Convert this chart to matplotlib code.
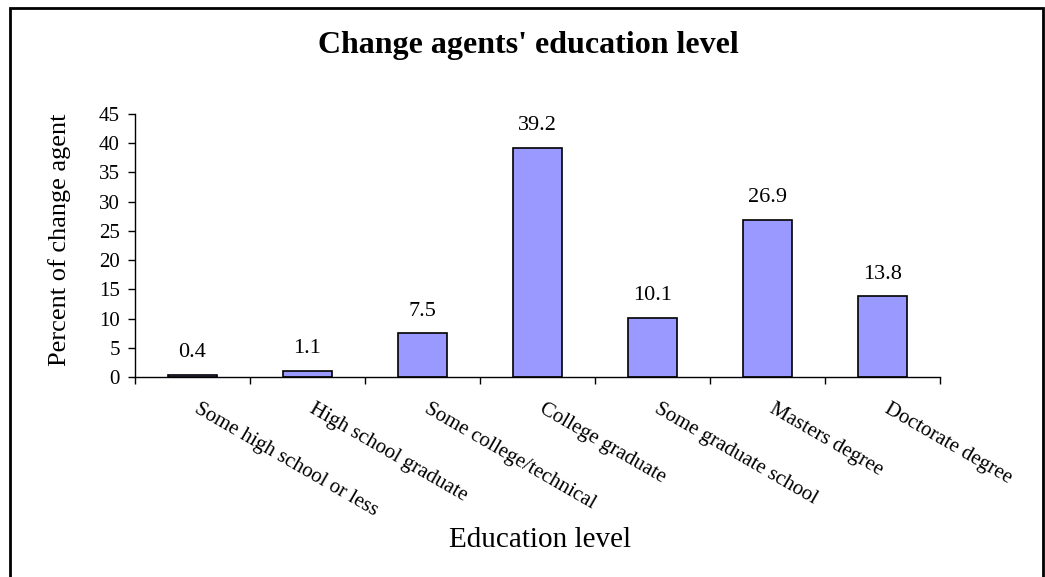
import matplotlib
matplotlib.use('Agg')
import matplotlib.pyplot as plt
import matplotlib.patches as mpatches
import numpy as np

# education categories and share of change agents (%)
categories = ['Some high school or less', 'High school graduate', 'Some college/technical',
              'College graduate', 'Some graduate school', 'Masters degree', 'Doctorate degree']
values = [0.4, 1.1, 7.5, 39.2, 10.1, 26.9, 13.8]
yticks = [0, 5, 10, 15, 20, 25, 30, 35, 40, 45]

plt.rcParams['font.family'] = ['Liberation Serif', 'DejaVu Serif']

W, H = 1045, 577
fig = plt.figure(figsize=(W / 100, H / 100), dpi=100)
ax = fig.add_axes([135 / W, 1 - 377 / H, (940 - 135) / W, (377 - 114) / H])

x = np.arange(len(categories))
bars = ax.bar(x, values, width=0.42, color='#9999FF', edgecolor='black', linewidth=1.2)
for b, v in zip(bars, values):
    ax.annotate(f'{v:.1f}', (b.get_x() + b.get_width() / 2, v), xytext=(0, 9),
                textcoords='offset points', ha='center', va='bottom', fontsize=16)

ax.set_xlim(-0.5, len(categories) - 0.5)
ax.set_ylim(0, 45)
ax.set_yticks(yticks)
ax.tick_params(axis='y', labelsize=15, direction='out', length=5, width=1, pad=6)

# category boundaries get the tick marks, names are written at the centres
ax.set_xticks([])
ax.set_xticks(np.arange(-0.5, len(categories)), minor=True)
ax.tick_params(axis='x', which='minor', direction='out', length=5, width=1, labelbottom=False)
for xi, name in zip(x, categories):
    ax.annotate(name, (xi, 0), xycoords=('data', 'axes fraction'), xytext=(6, -16),
                textcoords='offset points', rotation=-30, ha='left', va='top',
                rotation_mode='anchor', fontsize=15)

for s in ['top', 'right']:
    ax.spines[s].set_visible(False)
for s in ['left', 'bottom']:
    ax.spines[s].set_linewidth(1)

fig.text(528 / W, 1 - 53 / H, "Change agents' education level", ha='center', va='baseline',
         fontsize=23, fontweight='bold')
fig.text(540 / W, 1 - 547 / H, 'Education level', ha='center', va='baseline', fontsize=21)
fig.text(60 / W, 1 - 240 / H, 'Percent of change agent', ha='center', va='center',
         rotation=90, fontsize=19)

# outer frame (bottom edge falls outside the picture)
fig.patches.append(mpatches.Rectangle((10 / W, -0.05), (1043 - 10) / W, 1.05 - 8 / H,
                                      transform=fig.transFigure, fill=False,
                                      edgecolor='black', linewidth=2))

fig.savefig('out.png', dpi=100)
